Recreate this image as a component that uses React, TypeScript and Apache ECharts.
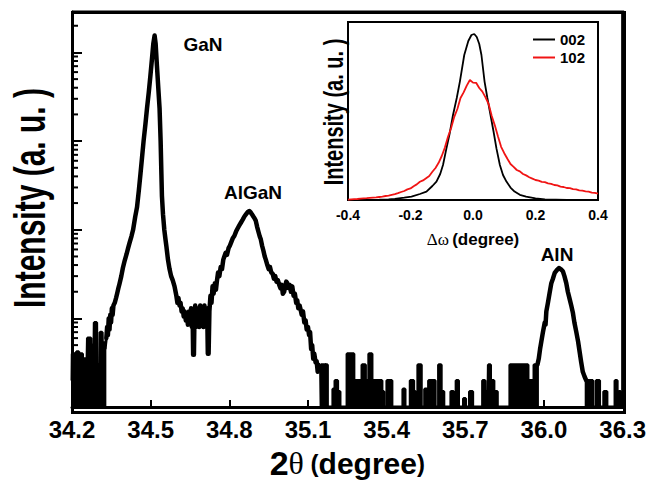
import React, { useEffect, useRef } from 'react';
import * as echarts from 'echarts';

const FONT = '"Liberation Sans", Arial, Helvetica, sans-serif';

// ---- main 2θ scan (2θ in degree, intensity in counts) ----
const leftNoise: [number, number][] = [
  [34.200, 2], [34.201, 4], [34.210, 4], [34.211, 2], [34.216, 2], [34.217, 4.2], [34.226, 4.2],
  [34.227, 1], [34.229, 1], [34.230, 4], [34.240, 4], [34.241, 1], [34.243, 1], [34.244, 3.5],
  [34.255, 3.5], [34.256, 2], [34.258, 2], [34.259, 6], [34.272, 6], [34.273, 1], [34.277, 1],
  [34.278, 5], [34.284, 5], [34.285, 9], [34.294, 9], [34.295, 3], [34.302, 3], [34.303, 1],
  [34.306, 1], [34.307, 7], [34.315, 7], [34.316, 4.5], [34.321, 5.5], [34.326, 4.5], [34.331, 6],
];

const gaNPeak: [number, number][] = [
  [34.331, 6], [34.334, 8], [34.337, 6.5], [34.340, 10], [34.343, 7.5], [34.346, 11], [34.349, 9],
  [34.352, 13], [34.355, 11], [34.358, 14], [34.363, 15], [34.368, 17], [34.372, 19], [34.377, 22],
  [34.381, 24.5], [34.388, 30], [34.394, 37], [34.401, 45], [34.408, 53], [34.414, 62], [34.420, 72],
  [34.427, 85], [34.433, 100], [34.441, 140], [34.448, 180], [34.455, 280], [34.461, 422],
  [34.467, 650], [34.473, 1000], [34.480, 1550], [34.486, 2327], [34.493, 3600], [34.499, 5460],
  [34.505, 8500], [34.510, 12500], [34.515, 15500], [34.519, 12500], [34.524, 7000], [34.529, 4000],
  [34.534, 2327], [34.538, 1000], [34.541, 420], [34.543, 240], [34.547, 150], [34.552, 100],
  [34.556, 80], [34.560, 65], [34.566, 46], [34.572, 36], [34.578, 30], [34.584, 27], [34.591, 23],
  [34.595, 20], [34.598, 18],
];

const valley: [number, number][] = [
  [34.602, 15], [34.606, 17], [34.610, 14], [34.614, 15], [34.618, 12], [34.622, 13], [34.626, 10.5],
  [34.630, 12], [34.634, 9.5], [34.638, 11], [34.642, 8.5], [34.646, 12], [34.650, 9], [34.654, 13],
  [34.657, 8], [34.660, 11], [34.662, 3.9], [34.665, 3.9], [34.667, 10], [34.670, 14], [34.673, 8],
  [34.676, 13], [34.679, 9], [34.682, 12], [34.685, 8], [34.689, 14], [34.693, 9], [34.697, 12],
  [34.701, 8], [34.705, 14], [34.709, 9], [34.713, 13], [34.716, 10], [34.718, 4], [34.721, 4],
  [34.724, 12], [34.728, 18], [34.732, 15], [34.736, 23], [34.740, 19], [34.745, 25], [34.749, 21],
  [34.753, 27],
];

const alGaNPeak: [number, number][] = [
  [34.757, 33], [34.762, 30], [34.767, 38], [34.772, 36], [34.777, 46], [34.781, 50], [34.786, 55],
  [34.791, 52], [34.797, 62], [34.802, 66], [34.807, 72], [34.813, 80], [34.819, 85], [34.826, 96],
  [34.832, 104], [34.838, 112], [34.844, 120], [34.851, 130], [34.858, 142], [34.864, 150],
  [34.870, 158], [34.876, 163], [34.881, 158], [34.886, 150], [34.891, 142], [34.896, 135],
  [34.901, 126], [34.906, 108], [34.911, 95], [34.916, 84], [34.920, 78], [34.925, 66], [34.930, 58],
  [34.935, 50], [34.939, 46], [34.945, 40], [34.950, 36], [34.955, 38], [34.960, 33], [34.965, 32],
  [34.970, 28], [34.975, 30], [34.980, 26], [34.985, 27], [34.990, 24], [34.995, 22], [35.000, 24],
  [35.004, 19], [35.009, 20], [35.013, 23], [35.017, 26], [35.021, 25], [35.025, 22], [35.030, 24],
  [35.035, 20], [35.040, 23], [35.045, 18], [35.050, 19], [35.055, 15], [35.059, 16], [35.063, 13],
  [35.068, 14], [35.072, 12.5], [35.076, 11], [35.081, 12], [35.086, 9], [35.091, 9.5], [35.095, 7.5],
  [35.100, 8], [35.104, 6.5], [35.108, 7], [35.112, 4.5], [35.116, 5], [35.120, 3.5], [35.124, 4],
  [35.129, 3.2], [35.133, 3.3], [35.137, 2.5], [35.140, 3], [35.144, 2.8], [35.148, 2.8],
];

// noise bars between the peaks: [from 2θ, to 2θ, counts]
const baseBars: [number, number, number][] = [
  [35.150, 35.166, 3], [35.168, 35.174, 3], [35.195, 35.203, 1.6], [35.203, 35.213, 2],
  [35.216, 35.222, 1.5], [35.249, 35.275, 4], [35.275, 35.306, 2], [35.306, 35.319, 3],
  [35.319, 35.332, 2], [35.332, 35.344, 4], [35.344, 35.382, 2], [35.384, 35.389, 1.5],
  [35.401, 35.420, 2], [35.462, 35.470, 1.6], [35.490, 35.503, 2], [35.506, 35.510, 1.5],
  [35.519, 35.532, 3], [35.545, 35.553, 1.6], [35.560, 35.585, 2], [35.598, 35.608, 3],
  [35.612, 35.618, 1.5], [35.645, 35.655, 1.5], [35.665, 35.674, 2], [35.693, 35.701, 1.25],
  [35.716, 35.728, 1.5], [35.766, 35.775, 2], [35.780, 35.786, 1.5], [35.788, 35.796, 3],
  [35.800, 35.809, 2], [35.812, 35.822, 1.5], [35.870, 35.939, 3], [35.939, 35.958, 2],
  [35.962, 35.975, 3],
];

const alNPeak: [number, number][] = [
  [35.975, 3], [35.980, 3.5], [35.985, 4.5], [35.990, 5.5], [35.996, 7], [36.003, 9], [36.006, 8.5],
  [36.009, 12], [36.015, 15], [36.021, 19], [36.028, 25], [36.034, 28], [36.041, 32.6], [36.049, 35],
  [36.057, 37], [36.064, 36], [36.072, 34], [36.078, 30], [36.085, 25], [36.091, 20], [36.098, 16.5],
  [36.104, 14], [36.110, 11.7], [36.116, 9], [36.123, 7.1], [36.130, 5.5], [36.136, 4.2],
  [36.142, 3.2], [36.148, 2.5], [36.155, 2.2], [36.161, 2],
];

const tailBars: [number, number, number][] = [
  [36.161, 36.170, 2], [36.174, 36.186, 2], [36.199, 36.212, 2], [36.228, 36.240, 1.5],
  [36.271, 36.279, 2], [36.286, 36.292, 1.5],
];

// ---- inset rocking curves (Δω in degree, intensity a.u.) ----
const rc002: [number, number][] = [
  [-0.40, 0.0], [-0.30, 0.02], [-0.27, 0.03], [-0.25, 0.06], [-0.22, 0.12], [-0.197, 0.17],
  [-0.17, 0.30], [-0.149, 0.42], [-0.13, 0.7], [-0.117, 0.92], [-0.105, 1.3], [-0.096, 1.75],
  [-0.085, 2.58], [-0.075, 3.3], [-0.064, 4.25], [-0.052, 5.1], [-0.042, 5.92], [-0.028, 7.25],
  [-0.015, 7.95], [-0.005, 8.25], [0.004, 8.3], [0.012, 8.15], [0.020, 7.8], [0.027, 7.25],
  [0.037, 5.92], [0.046, 5.1], [0.056, 4.25], [0.066, 3.4], [0.075, 2.58], [0.086, 1.75],
  [0.096, 1.25], [0.107, 0.92], [0.12, 0.62], [0.133, 0.42], [0.15, 0.26], [0.17, 0.17],
  [0.20, 0.08], [0.23, 0.03], [0.30, 0.01], [0.40, 0.0],
];

const rc102: [number, number][] = [
  [-0.40, 0.02], [-0.39, 0.03], [-0.38, 0.04], [-0.37, 0.05], [-0.36, 0.07], [-0.35, 0.08],
  [-0.34, 0.09], [-0.33, 0.11], [-0.32, 0.12], [-0.31, 0.13], [-0.30, 0.15], [-0.29, 0.17],
  [-0.28, 0.2], [-0.27, 0.22], [-0.26, 0.26], [-0.25, 0.29], [-0.24, 0.34], [-0.23, 0.40],
  [-0.22, 0.45], [-0.21, 0.53], [-0.20, 0.58], [-0.19, 0.69], [-0.18, 0.78], [-0.17, 0.91],
  [-0.16, 0.98], [-0.15, 1.09], [-0.14, 1.2], [-0.13, 1.41], [-0.12, 1.6], [-0.11, 1.86],
  [-0.10, 2.2], [-0.09, 2.62], [-0.08, 3.16], [-0.07, 3.6], [-0.06, 4.16], [-0.05, 4.55],
  [-0.04, 5.1], [-0.03, 5.38], [-0.02, 5.72], [-0.01, 6.0], [0.00, 5.87], [0.01, 5.86],
  [0.02, 5.6], [0.03, 5.42], [0.04, 5.13], [0.05, 4.8], [0.06, 4.2], [0.07, 3.72], [0.08, 3.18],
  [0.09, 2.66], [0.10, 2.34], [0.11, 2.06], [0.12, 1.8], [0.13, 1.66], [0.14, 1.5], [0.15, 1.43],
  [0.16, 1.3], [0.17, 1.23], [0.18, 1.14], [0.19, 1.07], [0.20, 1.0], [0.21, 0.97], [0.22, 0.91],
  [0.23, 0.89], [0.24, 0.83], [0.25, 0.81], [0.26, 0.75], [0.27, 0.73], [0.28, 0.67], [0.29, 0.65],
  [0.30, 0.6], [0.31, 0.59], [0.32, 0.54], [0.33, 0.53], [0.34, 0.48], [0.35, 0.47], [0.36, 0.43],
  [0.37, 0.42], [0.38, 0.37], [0.39, 0.36], [0.40, 0.32],
];

// ---- axes ----
const X_MIN = 34.2;
const X_MAX = 36.3;
const X_STEP = 0.3;
const Y_MIN = 1;
const Y_MAX = 28580;
const logDecades = [1, 10, 100, 1000, 10000];
const logMinorSteps = [2, 3, 4, 5, 6, 7, 8, 9];

function barsToPoints(bars: [number, number, number][]): [number, number][] {
  const pts: [number, number][] = [];
  bars.forEach(([s, e, v]) => {
    pts.push([s, Y_MIN], [s, v], [e, v], [e, Y_MIN]);
  });
  return pts;
}

export default function App() {
  const ref = useRef<HTMLDivElement>(null);

  useEffect(() => {
    if (!ref.current) return;
    const chart = echarts.init(ref.current, undefined, { renderer: 'svg' });

    const minorTicks: number[] = [];
    logDecades.forEach((d) => logMinorSteps.forEach((m) => {
      if (d * m <= Y_MAX) minorTicks.push(d * m);
    }));

    const baseData: [number, number][] = [[35.148, 2.8], ...barsToPoints(baseBars)];
    const tailData: [number, number][] = [[36.161, 2], ...barsToPoints(tailBars), [X_MAX, Y_MIN]];
    const peaksData: [number, number][] = [...gaNPeak, ...valley, ...alGaNPeak];

    const areaSeries = (name: string, data: [number, number][]) => ({
      name,
      type: 'line',
      xAxisIndex: 0,
      yAxisIndex: 0,
      data,
      symbol: 'none',
      lineStyle: { color: '#000', width: 3 },
      areaStyle: { color: '#000', opacity: 1, origin: 'start' },
      z: 2,
    });

    const frameAxis = { show: true, onZero: false, lineStyle: { color: '#000', width: 3 } };

    const option: any = {
      animation: false,
      backgroundColor: '#fff',
      grid: [
        { left: 72, top: 12, right: 24, bottom: 72 },
        { left: 348, top: 22, width: 250, height: 178, show: true, borderColor: '#000', borderWidth: 2, backgroundColor: '#fff', z: 3 },
      ],
      legend: {
        data: ['002', '102'],
        orient: 'vertical',
        left: 533,
        top: 32,
        padding: 0,
        icon: 'rect',
        itemWidth: 22,
        itemHeight: 2,
        itemGap: 3,
        selectedMode: false,
        textStyle: { fontSize: 15, lineHeight: 15, fontWeight: 'bold', fontFamily: FONT, color: '#000' },
      },
      xAxis: [
        {
          type: 'value', gridIndex: 0, position: 'bottom', min: X_MIN, max: X_MAX, interval: X_STEP,
          axisLine: frameAxis,
          axisTick: { show: true, inside: true, length: 7, lineStyle: { color: '#000', width: 2 } },
          axisLabel: {
            fontSize: 24, fontWeight: 'bold', fontFamily: FONT, color: '#000', margin: 10,
            formatter: (v: number) => v.toFixed(1),
          },
          splitLine: { show: false },
          name: '{n|2}{t|θ}{p| (}{d|degree}{p|)}',
          nameLocation: 'middle',
          nameGap: 36,
          nameTextStyle: {
            rich: {
              n: { fontSize: 34, fontWeight: 'bold', fontFamily: FONT, color: '#000' },
              t: { fontSize: 32, fontFamily: '"Liberation Serif", serif', color: '#000' },
              p: { fontSize: 24, fontWeight: 'bold', fontFamily: FONT, color: '#000' },
              d: { fontSize: 30, fontWeight: 'bold', fontFamily: FONT, color: '#000' },
            },
          },
        },
        {
          type: 'value', gridIndex: 1, position: 'bottom', min: -0.4, max: 0.4, interval: 0.2,
          axisLine: { show: true, onZero: false, lineStyle: { color: '#000', width: 2 } },
          axisTick: { show: true, inside: true, length: 5, lineStyle: { color: '#000', width: 1.5 } },
          minorTick: { show: true, splitNumber: 2, length: 4, lineStyle: { color: '#000', width: 1.5 } },
          axisLabel: {
            fontSize: 14, fontWeight: 'bold', fontFamily: FONT, color: '#000', margin: 8,
            formatter: (v: number) => v.toFixed(1),
          },
          splitLine: { show: false },
          minorSplitLine: { show: false },
          name: '{o|Δω} {d|(degree)}',
          nameLocation: 'middle',
          nameGap: 31,
          nameTextStyle: {
            rich: {
              o: { fontSize: 17, fontFamily: '"Liberation Serif", serif', color: '#000' },
              d: { fontSize: 17, fontWeight: 'bold', fontFamily: FONT, color: '#000' },
            },
          },
        },
      ],
      yAxis: [
        {
          type: 'log', gridIndex: 0, position: 'left', logBase: 10, min: Y_MIN, max: Y_MAX,
          axisLine: frameAxis,
          axisTick: { show: true, inside: true, length: 10, lineStyle: { color: '#000', width: 2 } },
          axisLabel: { show: false },
          splitLine: { show: false },
        },
        {
          type: 'value', gridIndex: 1, position: 'left', min: 0, max: 8.9, interval: 2,
          axisLine: { show: true, onZero: false, lineStyle: { color: '#000', width: 2 } },
          axisTick: { show: true, inside: true, length: 7, lineStyle: { color: '#000', width: 1.5 } },
          minorTick: { show: true, splitNumber: 2, length: 4, lineStyle: { color: '#000', width: 1.5 } },
          axisLabel: { show: false },
          splitLine: { show: false },
          minorSplitLine: { show: false },
        },
      ],
      graphic: [
        {
          type: 'text', x: 30, y: 198, rotation: Math.PI / 2, scaleY: 1.45,
          style: { text: 'Intensity (a. u. )', fontSize: 30, fontWeight: 'bold', fontFamily: FONT, fill: '#000', textAlign: 'center', textVerticalAlign: 'middle' },
        },
        {
          type: 'text', x: 333, y: 112, rotation: Math.PI / 2, scaleY: 1.4, z: 10,
          style: { text: 'Intensity (a. u. )', fontSize: 20, fontWeight: 'bold', fontFamily: FONT, fill: '#000', textAlign: 'center', textVerticalAlign: 'middle' },
        },
        {
          type: 'text', x: 203, y: 44,
          style: { text: 'GaN', fontSize: 19, fontWeight: 'bold', fontFamily: FONT, fill: '#000', textAlign: 'center', textVerticalAlign: 'middle' },
        },
        {
          type: 'text', x: 253, y: 192,
          style: { text: 'AlGaN', fontSize: 19, fontWeight: 'bold', fontFamily: FONT, fill: '#000', textAlign: 'center', textVerticalAlign: 'middle' },
        },
        {
          type: 'text', x: 557, y: 254,
          style: { text: 'AlN', fontSize: 19, fontWeight: 'bold', fontFamily: FONT, fill: '#000', textAlign: 'center', textVerticalAlign: 'middle' },
        },
      ],
      series: [
        areaSeries('noise-left', leftNoise),
        {
          name: 'scan', type: 'line', xAxisIndex: 0, yAxisIndex: 0, data: peaksData, symbol: 'none',
          lineStyle: { color: '#000', width: 4.5, join: 'round', cap: 'round' }, z: 3,
        },
        areaSeries('noise-mid', baseData),
        {
          name: 'scan-AlN', type: 'line', xAxisIndex: 0, yAxisIndex: 0, data: alNPeak, symbol: 'none',
          lineStyle: { color: '#000', width: 4.5, join: 'round', cap: 'round' }, z: 3,
        },
        areaSeries('noise-tail', tailData),
        {
          // plot frame: top and right edges drawn from the axes' extent corners
          name: 'frame', type: 'custom', xAxisIndex: 0, yAxisIndex: 0, silent: true, z: 8,
          data: [[X_MAX, Y_MAX]],
          renderItem: (_p: any, api: any) => {
            const tl = api.coord([X_MIN, Y_MAX]);
            const tr = api.coord([X_MAX, Y_MAX]);
            const br = api.coord([X_MAX, Y_MIN]);
            return {
              type: 'polyline',
              shape: { points: [[tl[0], tl[1]], [tr[0], tr[1]], [br[0], br[1]]] },
              style: { stroke: '#000', lineWidth: 3, fill: 'none', lineJoin: 'miter' },
            };
          },
        },
        {
          name: 'minor-ticks', type: 'custom', xAxisIndex: 0, yAxisIndex: 0, silent: true, z: 5,
          data: minorTicks.map((v) => [X_MIN, v]),
          renderItem: (_p: any, api: any) => {
            const pt = api.coord([api.value(0), api.value(1)]);
            return {
              type: 'line',
              shape: { x1: pt[0], y1: pt[1], x2: pt[0] + 6, y2: pt[1] },
              style: { stroke: '#000', lineWidth: 2 },
            };
          },
        },
        {
          name: '002', type: 'line', xAxisIndex: 1, yAxisIndex: 1, data: rc002, symbol: 'none',
          lineStyle: { color: '#000', width: 1.8 }, itemStyle: { color: '#000' }, z: 6,
        },
        {
          name: '102', type: 'line', xAxisIndex: 1, yAxisIndex: 1, data: rc102, symbol: 'none',
          lineStyle: { color: '#f01414', width: 1.8 }, itemStyle: { color: '#f01414' }, z: 6,
        },
      ],
    };

    chart.setOption(option);
    return () => chart.dispose();
  }, []);

  return (
    <div style={{ position: 'fixed', left: 0, top: 0, width: 649, height: 485, background: '#fff' }}>
      <div ref={ref} style={{ position: 'absolute', left: 0, top: 0, width: 649, height: 485 }} />
      <div
        style={{
          position: 'absolute', left: 71, top: 11, width: 555, height: 403,
          boxSizing: 'border-box', border: '3px solid #000', pointerEvents: 'none',
        }}
      />
    </div>
  );
}
